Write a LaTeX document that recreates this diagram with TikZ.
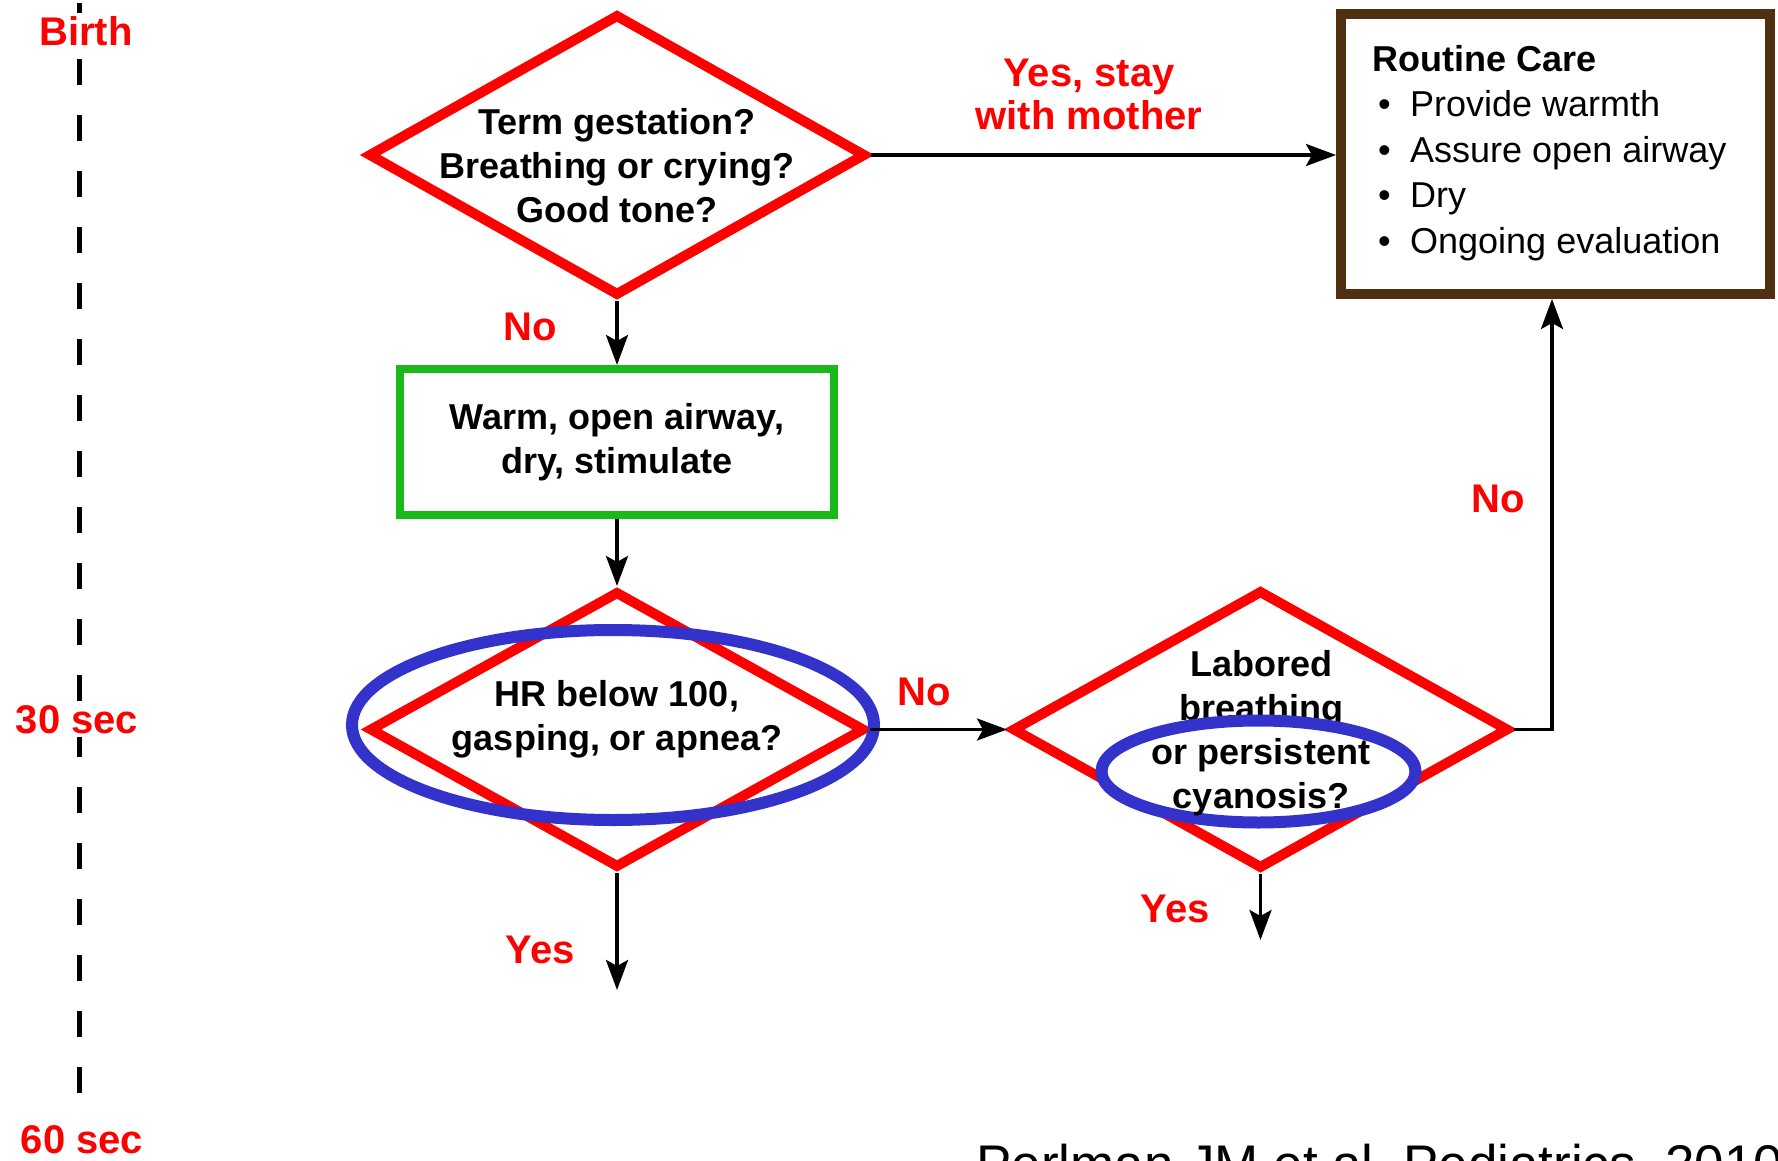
\documentclass[tikz,border=0pt]{standalone}
\usepackage{fontspec}
\setmainfont{Liberation Sans}
\usetikzlibrary{shapes.geometric, arrows.meta}
\definecolor{dred}{RGB}{255,0,0}
\definecolor{dgreen}{RGB}{25,185,25}
\definecolor{dblue}{RGB}{51,51,204}
\definecolor{dbrown}{RGB}{80,48,16}
\begin{document}
\begin{tikzpicture}[x=1pt,y=-1pt,
  dec/.style={diamond, draw=dred, line width=10pt, inner sep=0pt, line join=miter},
  qtext/.style={font=\fontsize{36}{44}\selectfont\bfseries, align=center, inner sep=0pt, text=black},
  lbl/.style={font=\fontsize{40}{43}\selectfont\bfseries, text=dred, align=center, inner sep=0pt},
  tlabel/.style={font=\fontsize{40}{43}\selectfont\bfseries, text=dred, fill=white, inner sep=3pt},
  arr/.style={line width=3.5pt, -{Stealth[length=30pt,width=22pt,inset=6pt]}},
  ring/.style={ellipse, draw=dblue, line width=12pt, inner sep=0pt},
  gbox/.style={draw=dgreen, line width=8pt, align=center, font=\fontsize{36}{44}\selectfont\bfseries, inner sep=0pt},
  rcbox/.style={draw=dbrown, line width=10pt, inner sep=0pt}
]
\path[fill=white, use as bounding box] (0,0) rectangle (1778,1161);

% timeline
\coordinate (tltop) at (79,3);
\coordinate (tlbot) at (79,1125);
\draw[line width=5pt, dash pattern=on 26pt off 30pt] (tltop) -- (tlbot);
\node[tlabel] (birth) at (86,31) {Birth};
\node[tlabel] (t30) at (77,720) {30 sec};
\node[tlabel] (t60) at (82,1140) {60 sec};

% boxes and decisions
\node[dec, minimum width=498pt, minimum height=282pt] (d1) at (617,155) {};
\node[qtext] (d1t) at (617,166) {Term gestation?\\Breathing or crying?\\Good tone?};

\node[gbox, minimum width=434pt, minimum height=146pt] (warm) at (617,442) {Warm, open airway,\\dry, stimulate};

\node[dec, minimum width=496pt, minimum height=277pt] (d2) at (617,729.5) {};
\node[qtext] (d2t) at (617,719) {HR below 100,\\gasping, or apnea?};
\node[ring, minimum width=522pt, minimum height=190pt] (hl1) at (613,725) {};

\node[dec, minimum width=497pt, minimum height=279pt] (d3) at (1260.5,729.5) {};
\node[qtext] (d3a) at (1261,689) {Labored\\breathing};
\node[ring, fill=white, minimum width=314pt, minimum height=102pt] (hl2) at (1258.5,771.5) {};
\node[qtext] (d3b) at (1261,777) {or persistent\\cyanosis?};

\node[rcbox, minimum width=429pt, minimum height=280pt] (rc) at (1555.5,154) {};
\node[anchor=west, align=left, inner sep=0pt, font=\fontsize{36}{45.5}\selectfont] (rct) at (1372,153)
  {\textbf{Routine Care}\\
   \makebox[38pt][l]{\hspace{6pt}\textbullet}Provide warmth\\
   \makebox[38pt][l]{\hspace{6pt}\textbullet}Assure open airway\\
   \makebox[38pt][l]{\hspace{6pt}\textbullet}Dry\\
   \makebox[38pt][l]{\hspace{6pt}\textbullet}Ongoing evaluation};

% free ends
\coordinate (e2) at (617,990);
\coordinate (e3) at (1260.5,940);
\coordinate (bend) at (1552,729.5);

% connectors
\draw[arr] (d1.east) -- (d1.east -| rc.west);
\draw[arr] (d1.south) -- (warm.north);
\draw[arr] (warm.south) -- (d2.north);
\draw[arr] (d2.east) -- (d3.west);
\draw[arr] (d2.south) -- (e2);
\draw[arr] (d3.south) -- (e3);
\draw[arr] (d3.east) -- (bend) -- (bend |- rc.south);

% labels
\node[lbl] (yes1) at (1089,94.5) {Yes, stay\\with mother};
\node[lbl] (no1) at (530,327) {No};
\node[lbl] (no2) at (924,692) {No};
\node[lbl] (no3) at (1498,499) {No};
\node[lbl] (yes2) at (540,950) {Yes};
\node[lbl] (yes3) at (1175,909) {Yes};

% citation
\node[anchor=base west, inner sep=0pt, font=\fontsize{53}{60}\selectfont] (cite) at (976,1182) {Perlman JM et al, Pediatrics, 2010};
\end{tikzpicture}
\end{document}
